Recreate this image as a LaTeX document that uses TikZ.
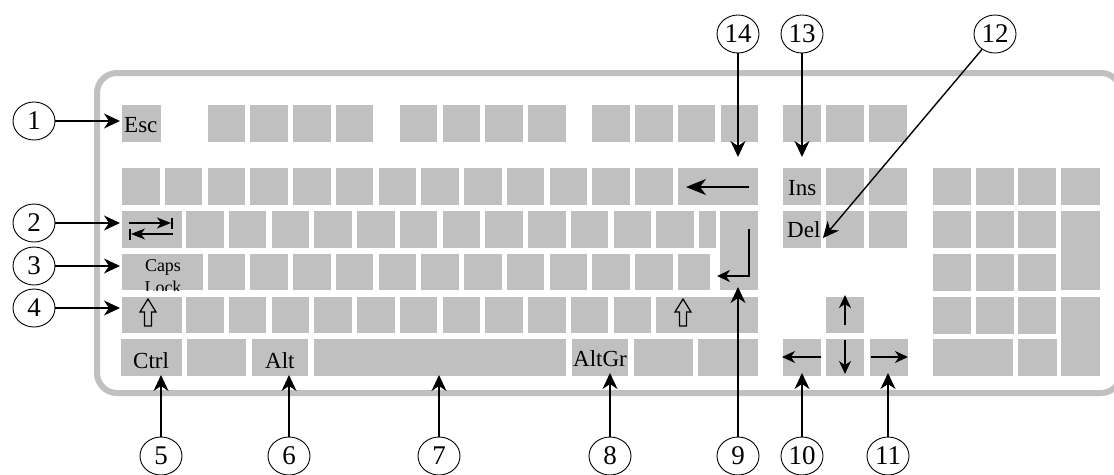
\documentclass[tikz,border=0pt]{standalone}
\usepackage{fontspec}
\setmainfont{Liberation Serif}
\usetikzlibrary{arrows.meta,shapes.geometric}
\definecolor{keyc}{RGB}{192,192,192}
\begin{document}
\begin{tikzpicture}[x=1pt,y=-1pt,
  keybox/.style={fill=keyc},
  klabel/.style={anchor=base west,inner sep=0pt,font=\fontsize{23}{25}\selectfont},
  callout/.style={ellipse,draw,line width=0.9pt,minimum width=42pt,minimum height=38pt,inner sep=0pt,font=\fontsize{27}{29}\selectfont},
  callarrow/.style={line width=1.4pt,-{Stealth[length=16pt,width=15pt,inset=5pt]}},
  symarrow/.style={line width=1.4pt,-{Stealth[length=13pt,width=12pt,inset=4pt]}},
  bigarrow/.style={line width=1.4pt,-{Stealth[length=20pt,width=16pt,inset=6pt]}},
  shiftsym/.style={line width=1.2pt,draw=black}
]
\useasboundingbox (0,0) rectangle (1114,474);
% case outline
\draw[keyc,line width=6pt,rounded corners=20pt] (97,73) rectangle (1121,393);
% row 1 (function keys)
\fill[keybox] (122,105) rectangle (161,142);
\foreach \k in {2,3,4,5,6.5,7.5,8.5,9.5,11,12,13,14}
  \fill[keybox] ({122+\k*42.75},105) rectangle ++(37.5,37);
\foreach \x in {783,826,869}
  \fill[keybox] (\x,105) rectangle ++(38,37);
% row 2
\foreach \k in {0,...,12}
  \fill[keybox] ({122+\k*42.75},168) rectangle ++(37.5,37);
\fill[keybox] (677.75,168) rectangle (758,205);
% row 3
\fill[keybox] (122,211) rectangle (182,248);
\foreach \k in {1.5,2.5,...,12.5}
  \fill[keybox] ({122+\k*42.75},211) rectangle ++(37.5,37);
\fill[keybox] (698.5,211) rectangle (716,248);
\fill[keybox] (720,211) rectangle (758,290);
% row 4
\fill[keybox] (122,254) rectangle (203,290);
\foreach \k in {2,...,12}
  \fill[keybox] ({122+\k*42.75},254) rectangle ++(37.5,36);
\fill[keybox] (677.75,254) rectangle (710,290);
% row 5
\fill[keybox] (122,297) rectangle (182,333);
\foreach \k in {1.5,2.5,...,11.5}
  \fill[keybox] ({122+\k*42.75},297) rectangle ++(37.5,36);
\fill[keybox] (656.4,297) rectangle (758,333);
% row 6
\fill[keybox] (121,339) rectangle (182,376);
\fill[keybox] (187,339) rectangle (246,376);
\fill[keybox] (252,339) rectangle (308,376);
\fill[keybox] (314,339) rectangle (566,376);
\fill[keybox] (572,339) rectangle (628,376);
\fill[keybox] (634,339) rectangle (693,376);
\fill[keybox] (698,339) rectangle (758,376);
% navigation block
\foreach \x in {783,826,869}
  \foreach \y in {168,211}
    \fill[keybox] (\x,\y) rectangle ++(38,37);
\fill[keybox] (826,297) rectangle (864,333);
\fill[keybox] (783,339) rectangle (821,376);
\fill[keybox] (826,339) rectangle (864,376);
\fill[keybox] (870,339) rectangle (908,376);
% numeric pad
\foreach \x in {933,976,1018}
  \foreach \y in {168,211,254,297}
    \fill[keybox] (\x,\y) rectangle ++(37.5,36.5);
\fill[keybox] (1061,168) rectangle (1100,205);
\fill[keybox] (1061,211) rectangle (1100,290);
\fill[keybox] (1061,297) rectangle (1100,376);
\fill[keybox] (933,339) rectangle (1013,376);
\fill[keybox] (1018,339) rectangle (1057,376);
% key labels
\node[klabel] (esc) at (124,132) {Esc};
\node[klabel] (ins) at (788,195) {Ins};
\node[klabel] (del) at (787,237) {Del};
\node[klabel] (ctrl) at (133,368) {Ctrl};
\node[klabel] (alt) at (265,368) {Alt};
\node[klabel] (altgr) at (573,366) {AltGr};
\begin{scope}
  \clip (122,254) rectangle (203,290);
  \node[anchor=base,inner sep=0pt,font=\fontsize{18}{22}\selectfont] (caps) at (163,271) {Caps};
  \node[anchor=base,inner sep=0pt,font=\fontsize{18}{22}\selectfont] (lock) at (163,293) {Lock};
\end{scope}
% key symbols
\draw[line width=1.2pt,-{Stealth[length=14pt,width=11pt,inset=4pt]}] (129,223) -- (171,223);
\draw[line width=1.2pt] (172,217.5) -- (172,228.5);
\draw[line width=1.2pt,-{Stealth[length=14pt,width=11pt,inset=4pt]}] (173,234) -- (131,234);
\draw[line width=1.2pt] (130,228.5) -- (130,239.5);
\draw[shiftsym] (148,299) -- (156,312) -- (151.5,312) -- (151.5,326) -- (144.5,326) -- (144.5,312) -- (140,312) -- cycle;
\draw[shiftsym] (683,299) -- (691,312) -- (686.5,312) -- (686.5,326) -- (679.5,326) -- (679.5,312) -- (675,312) -- cycle;
\draw[bigarrow] (749,187) -- (686,187);
\draw[symarrow] (749,229) -- (749,276) -- (717,276);
\draw[symarrow] (845,325) -- (845,295);
\draw[symarrow] (845,340) -- (845,374);
\draw[symarrow] (821,357) -- (782,357);
\draw[symarrow] (871,357) -- (908,357);
% callouts
\node[callout] (c1) at (34,121) {1};
\node[callout] (c2) at (34,223) {2};
\node[callout] (c3) at (34,266) {3};
\node[callout] (c4) at (34,308) {4};
\node[callout] (c5) at (161,456) {5};
\node[callout] (c6) at (289,456) {6};
\node[callout] (c7) at (439,456) {7};
\node[callout] (c8) at (610,456) {8};
\node[callout] (c9) at (738,456) {9};
\node[callout] (c10) at (802,456) {10};
\node[callout] (c11) at (888,456) {11};
\node[callout] (c12) at (995,34) {12};
\node[callout] (c13) at (802,34) {13};
\node[callout] (c14) at (738,34) {14};
\coordinate (t1) at (120,121);
\coordinate (t2) at (120,223);
\coordinate (t3) at (120,266);
\coordinate (t4) at (120,308);
\coordinate (t5) at (161,375);
\coordinate (t6) at (289,375);
\coordinate (t7) at (439,375);
\coordinate (t8) at (610,373);
\coordinate (t9) at (738,287);
\coordinate (t10) at (802,373);
\coordinate (t11) at (888,373);
\coordinate (t12) at (823,238);
\coordinate (t13) at (802,157);
\coordinate (t14) at (738,157);
\foreach \i in {1,...,14}
  \draw[callarrow] (c\i) -- (t\i);
\end{tikzpicture}
\end{document}
